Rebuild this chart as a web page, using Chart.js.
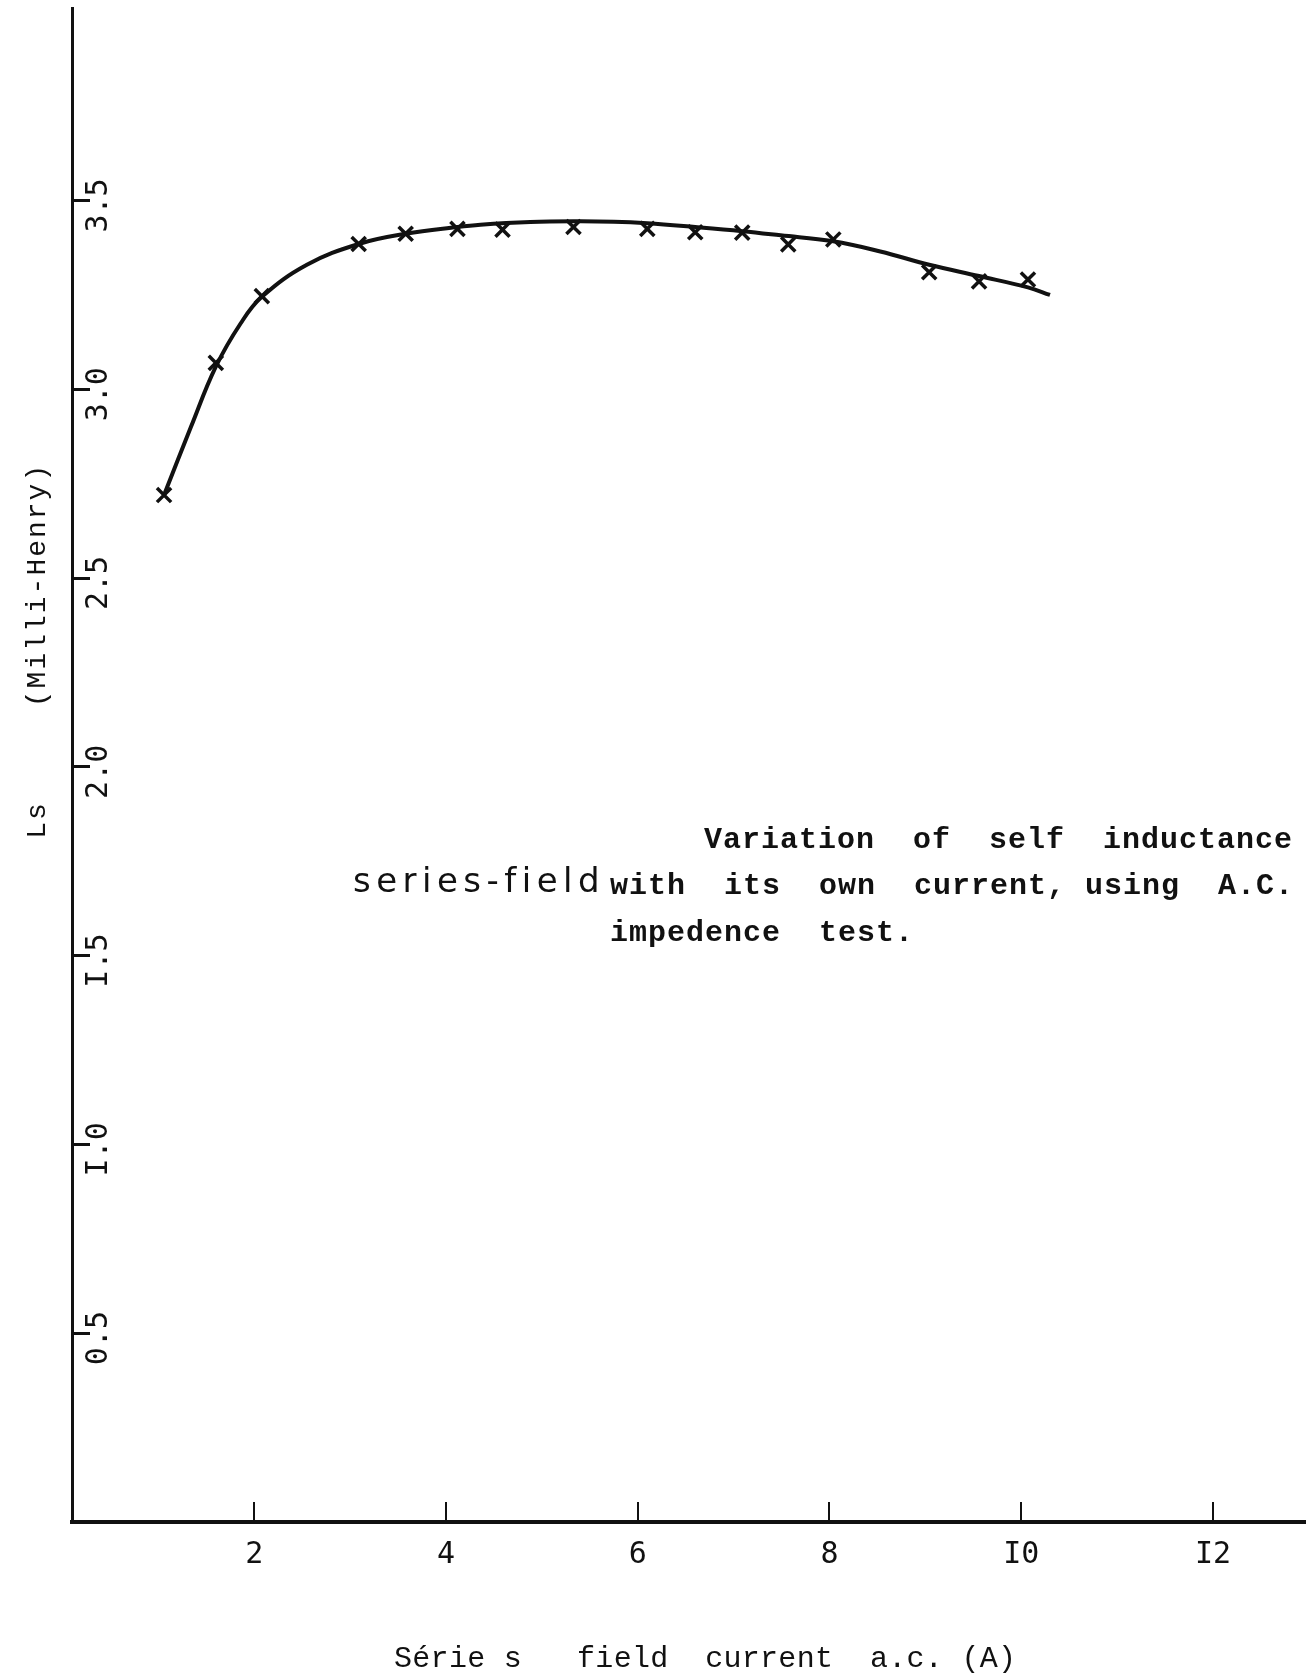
<!DOCTYPE html>
<html>
<head>
<meta charset="utf-8">
<title>Series field self inductance</title>
<script src="https://cdn.jsdelivr.net/npm/chart.js@4.4.1/dist/chart.umd.min.js"></script>
<style>
  html, body { margin: 0; padding: 0; background: #fff; }
  #wrap { width: 1306px; height: 1678px; }
</style>
</head>
<body>
<div id="wrap"><canvas id="chart" width="1306" height="1678"></canvas></div>
<script>
// measured points (crosses)
var pointX = [1.06, 1.6, 2.08, 3.09, 3.58, 4.12, 4.59, 5.33, 6.1, 6.6, 7.09, 7.57, 8.04, 9.04, 9.56, 10.07];
var pointY = [2.72, 3.07, 3.247, 3.385, 3.412, 3.425, 3.423, 3.43, 3.425, 3.416, 3.415, 3.384, 3.397, 3.31, 3.286, 3.291];

// hand drawn curve
var curveX = [1.06, 1.34, 1.6, 1.86, 2.08, 2.55, 3.09, 3.58, 4.12, 4.36, 4.88, 5.33, 5.75, 6.1, 6.6, 7.09, 7.49, 8.04, 8.53, 9.04, 9.56, 10.07, 10.3];
var curveY = [2.72, 2.9, 3.06, 3.175, 3.245, 3.33, 3.385, 3.412, 3.43, 3.436, 3.443, 3.445, 3.444, 3.44, 3.43, 3.419, 3.408, 3.392, 3.365, 3.33, 3.3, 3.27, 3.25];

var xTicks = [2, 4, 6, 8, 10, 12];
var xTickLabels = ['2', '4', '6', '8', 'I0', 'I2'];
var yTicks = [0.5, 1, 1.5, 2, 2.5, 3, 3.5];
var yTickLabels = ['0.5', 'I.0', 'I.5', '2.0', '2.5', '3.0', '3.5'];

var xTitle = 'Série s   field  current  a.c. (A)';
var yTitleUnit = '(Milli-Henry)';
var yTitleName = 'Ls';
var noteHand = 'series-field';
var noteLines = ['Variation  of  self  inductance', 'with  its  own  current, using  A.C.', 'impedence  test.'];

var ink = '#111';

var paperText = {
  id: 'paperText',
  afterDraw: function(chart) {
    var ctx = chart.ctx;
    ctx.save();
    ctx.fillStyle = ink;
    ctx.textBaseline = 'middle';

    // y title, reads bottom to top
    ctx.save();
    ctx.translate(38, 0);
    ctx.rotate(-Math.PI / 2);
    ctx.font = '28px "Liberation Mono"';
    ctx.letterSpacing = '2px';
    ctx.textAlign = 'center';
    ctx.fillText(yTitleUnit, -585, 0);
    ctx.fillText(yTitleName, -820, 0);
    ctx.restore();

    // x title
    ctx.font = '30px "Liberation Mono"';
    ctx.letterSpacing = '0.3px';
    ctx.textAlign = 'left';
    ctx.fillText(xTitle, 394, 1659);

    // caption
    ctx.font = 'bold 30px "Liberation Mono"';
    ctx.letterSpacing = '1px';
    ctx.fillText(noteLines[0], 704, 840);
    ctx.fillText(noteLines[1], 610, 886);
    ctx.fillText(noteLines[2], 610, 933);

    ctx.font = '34px "DejaVu Sans"';
    ctx.letterSpacing = '0px';
    var w = ctx.measureText(noteHand).width;
    ctx.letterSpacing = ((252 - w) / noteHand.length) + 'px';
    ctx.fillText(noteHand, 353, 883);
    ctx.restore();
  }
};

var curveData = [];
for (var i = 0; i < curveX.length; i++) curveData.push({ x: curveX[i], y: curveY[i] });
var pointData = [];
for (var i = 0; i < pointX.length; i++) pointData.push({ x: pointX[i], y: pointY[i] });

new Chart(document.getElementById('chart'), {
  type: 'scatter',
  data: {
    datasets: [
      { label: 'curve', data: curveData, showLine: true, borderColor: ink, borderWidth: 4, pointRadius: 0, tension: 0.4, fill: false },
      { label: 'test', data: pointData, showLine: false, pointStyle: 'crossRot', pointRadius: 10, borderColor: ink, borderWidth: 3.5, backgroundColor: ink }
    ]
  },
  options: {
    responsive: false,
    animation: false,
    layout: { autoPadding: false, padding: { left: 72, top: 8, right: 0, bottom: 0 } },
    plugins: { legend: { display: false }, tooltip: { enabled: false } },
    scales: {
      x: {
        type: 'linear', min: 0.1, max: 12.97,
        afterFit: function(s) { s.height = 156; s.paddingLeft = 0; s.paddingRight = 0; },
        afterBuildTicks: function(s) { s.ticks = xTicks.map(function(v) { return { value: v }; }); },
        grid: { drawOnChartArea: false, tickLength: -20, color: ink, lineWidth: 2 },
        border: { color: ink, width: 4 },
        ticks: {
          padding: 35, color: ink, maxRotation: 0, autoSkip: false,
          font: { family: 'DejaVu Sans Mono', size: 30 },
          callback: function(v) { return xTickLabels[xTicks.indexOf(v)]; }
        }
      },
      y: {
        type: 'linear', min: 0, max: 4.01,
        afterFit: function(s) { s.width = 0; s.paddingTop = 0; s.paddingBottom = 0; },
        afterBuildTicks: function(s) { s.ticks = yTicks.map(function(v) { return { value: v }; }); },
        grid: { drawOnChartArea: false, tickLength: -18, color: ink, lineWidth: 3 },
        border: { color: ink, width: 3 },
        ticks: {
          mirror: true, padding: 27, minRotation: 90, maxRotation: 90, labelOffset: 32, color: ink, autoSkip: false,
          font: { family: 'DejaVu Sans Mono', size: 30 },
          callback: function(v) { return yTickLabels[yTicks.indexOf(v)]; }
        }
      }
    }
  },
  plugins: [paperText]
});
</script>
</body>
</html>
